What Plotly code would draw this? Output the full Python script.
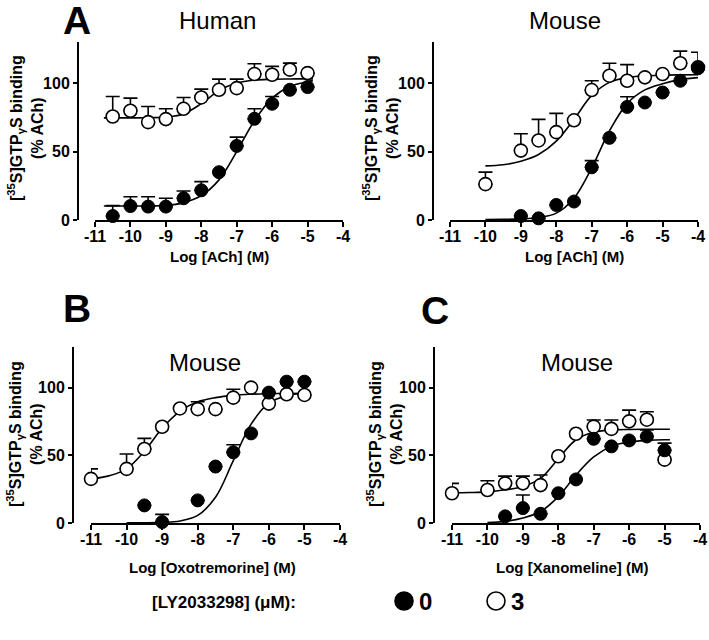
import plotly.graph_objects as go

W, H = 709, 640
FONT = "Liberation Sans, Arial, sans-serif"

# ---------------- data ----------------
x_tick_vals = [-11, -10, -9, -8, -7, -6, -5, -4]
x_tick_text = ["-11", "-10", "-9", "-8", "-7", "-6", "-5", "-4"]
y_tick_vals = [0, 50, 100]
y_tick_text = ["0", "50", "100"]

# Panel A, Human, ACh
hum_x = [-10.5, -10, -9.5, -9, -8.5, -8, -7.5, -7, -6.5, -6, -5.5, -5]
hum_0 = [2.9, 10.2, 9.8, 9.8, 15.9, 21.7, 34.9, 54.1, 73.9, 84.9, 95.1, 97.1]
hum_0_err = [7.6, 6.8, 7.2, 6.1, 5.3, 6.3, None, 6.4, 7.3, 5.3, None, None]
hum_3 = [75.6, 79.8, 71.5, 73.7, 81.2, 89.5, 95.1, 96.3, 106.6, 106.1, 109.8, 107.3]
hum_3_err = [14.6, 9.2, 11.4, 7.5, 8.3, 6.1, 7.8, 6.6, 7.5, 6.1, 4.8, None]
hum_fit_x = [-10.75, -10, -9.5, -9, -8.5, -8, -7.5, -7, -6.5, -6, -5.5, -5, -4.85]
hum_fit_0 = [10.2, 10.2, 10.3, 10.6, 12.7, 17.8, 29.3, 50.0, 72.5, 89.0, 97.5, 101.0, 101.8]
hum_fit_3 = [74.6, 74.6, 74.7, 75.2, 77.5, 85.0, 94.5, 100.0, 102.2, 102.8, 103.0, 103.1, 103.1]

# Panel A, Mouse, ACh
mus_3_x = [-10, -9, -8.5, -8, -7.5, -7, -6.5, -6, -5.5, -5, -4.5, -4]
mus_3 = [26.2, 50.7, 58.1, 64.2, 72.8, 94.9, 105.4, 101.7, 104.2, 106.6, 114.5, 111.5]
mus_3_err = [8.8, 12.3, 15.4, 13.7, None, 6.8, 9.1, 11.8, None, None, 8.8, 11.0]
mus_0_x = [-9, -8.5, -8, -7.5, -7, -6.5, -6, -5.5, -5, -4.5, -4]
mus_0 = [2.9, 1.2, 11.0, 13.5, 38.5, 60.0, 82.6, 85.8, 93.1, 101.7, 110.8]
mus_0_err = [None, None, None, None, 4.9, None, 7.4, None, None, None, None]
mus_fit_x = [-10, -9.5, -9, -8.5, -8, -7.5, -7, -6.5, -6, -5.5, -5, -4.5, -4]
mus_fit_0 = [0.3, 0.5, 0.8, 1.8, 5.0, 15.9, 38.0, 65.0, 85.0, 95.0, 99.5, 102.5, 104.0]
mus_fit_3 = [39.5, 40.3, 42.9, 47.8, 57.6, 73.5, 91.0, 100.5, 104.0, 105.3, 105.8, 106.0, 106.1]

# Panel B, Mouse, Oxotremorine
oxo_3_x = [-11, -10, -9.5, -9, -8.5, -8, -7.5, -7, -6.5, -6, -5.5, -5]
oxo_3 = [32.6, 40.0, 54.7, 71.1, 84.6, 84.1, 84.1, 92.6, 100.0, 88.2, 95.1, 94.6]
oxo_3_err = [7.4, 11.0, 7.8, None, None, 5.5, None, 6.2, None, None, None, None]
oxo_0_x = [-9.5, -9, -8, -7.5, -7, -6.5, -6, -5.5, -5]
oxo_0 = [13.0, 0.7, 16.7, 41.7, 52.2, 66.2, 96.3, 104.4, 104.4]
oxo_0_err = [None, 5.7, None, None, 5.6, None, None, None, None]
oxo_fit3_x = [-11, -10.5, -10, -9.5, -9, -8.5, -8, -7.5, -7, -6.5, -6, -5.5, -5]
oxo_fit_3 = [32.5, 34.8, 40.0, 53.0, 70.0, 82.5, 89.5, 92.6, 94.3, 95.1, 95.5, 95.7, 95.8]
oxo_fit0_x = [-10, -9.5, -9, -8.5, -8, -7.5, -7, -6.5, -6, -5.5, -5]
oxo_fit_0 = [0.1, 0.2, 0.5, 1.5, 5.6, 19.0, 46.0, 73.0, 88.5, 94.0, 95.8]

# Panel C, Mouse, Xanomeline
xan_3_x = [-11, -10, -9.5, -9, -8.5, -8, -7.5, -7, -6.5, -6, -5.5, -5]
xan_3 = [22.0, 24.4, 29.3, 29.3, 28.0, 49.3, 65.9, 71.2, 69.5, 75.1, 76.3, 46.8]
xan_3_err = [7.3, 6.8, 5.3, 5.3, 7.4, None, None, 4.9, 6.6, 8.3, 5.9, None]
xan_0_x = [-9.5, -9, -8.5, -8, -7.5, -7, -6.5, -6, -5.5, -5]
xan_0 = [4.9, 11.0, 6.8, 22.0, 32.2, 62.2, 56.6, 61.0, 63.9, 53.7]
xan_0_err = [None, 9.7, None, None, None, None, None, None, 4.9, 5.3]
xan_fit3_x = [-11, -10.5, -10, -9.5, -9, -8.5, -8, -7.5, -7, -6.5, -6, -5.5, -5, -4.85]
xan_fit_3 = [22.3, 22.5, 23.0, 24.5, 27.0, 33.0, 47.5, 61.5, 67.0, 68.6, 69.1, 69.2, 69.2, 69.2]
xan_fit0_x = [-10, -9.5, -9, -8.5, -8, -7.5, -7, -6.5, -6, -5.5, -5, -4.85]
xan_fit_0 = [0.3, 1.2, 3.7, 8.5, 19.5, 35.4, 48.8, 56.6, 59.8, 61.0, 61.5, 61.5]

panel_titles = ["Human", "Mouse", "Mouse", "Mouse"]
panel_letters = ["A", "B", "C"]
x_titles = ["Log [ACh] (M)", "Log [ACh] (M)", "Log [Oxotremorine] (M)", "Log [Xanomeline] (M)"]
y_title = "[<sup>35</sup>S]GTP<sub>γ</sub>S binding<br>(% ACh)"
legend_title = "[LY2033298] (μM):"
legend_labels = ["0", "3"]


def px(x):
    return x / W


def py(y):
    return 1 - y / H


fig = go.Figure()

# (x-axis left px, right px, y-axis px, top px, bottom px)
geom = [
    (95, 343, 78, 42, 220),
    (450, 698, 433, 42, 220),
    (91, 340, 73, 347, 523),
    (452, 700, 434, 347, 523),
]

panels = [
    (hum_x, hum_0, hum_0_err, hum_x, hum_3, hum_3_err, hum_fit_x, hum_fit_0, hum_fit_x, hum_fit_3),
    (mus_0_x, mus_0, mus_0_err, mus_3_x, mus_3, mus_3_err, mus_fit_x, mus_fit_0, mus_fit_x, mus_fit_3),
    (oxo_0_x, oxo_0, oxo_0_err, oxo_3_x, oxo_3, oxo_3_err, oxo_fit0_x, oxo_fit_0, oxo_fit3_x, oxo_fit_3),
    (xan_0_x, xan_0, xan_0_err, xan_3_x, xan_3, xan_3_err, xan_fit0_x, xan_fit_0, xan_fit3_x, xan_fit_3),
]

MS = 13
for i, (x0, y0, e0, x3, y3, e3, fx0, fy0, fx3, fy3) in enumerate(panels):
    xa = "x" if i == 0 else f"x{i+1}"
    ya = "y" if i == 0 else f"y{i+1}"
    line = dict(color="black", width=1.6)
    fig.add_trace(go.Scatter(x=fx0, y=fy0, mode="lines", line=dict(shape="spline", smoothing=1.0, **line),
                             xaxis=xa, yaxis=ya, showlegend=False, cliponaxis=False, hoverinfo="skip"))
    fig.add_trace(go.Scatter(x=fx3, y=fy3, mode="lines", line=dict(shape="spline", smoothing=1.0, **line),
                             xaxis=xa, yaxis=ya, showlegend=False, cliponaxis=False, hoverinfo="skip"))
    fig.add_trace(go.Scatter(
        x=x3, y=y3, mode="markers", xaxis=xa, yaxis=ya, showlegend=False, cliponaxis=False,
        marker=dict(symbol="circle", size=MS, color="white", line=dict(color="black", width=1.6)),
        error_y=dict(type="data", symmetric=False, array=e3, arrayminus=[0] * len(e3),
                     color="black", thickness=1.6, width=7)))
    fig.add_trace(go.Scatter(
        x=x0, y=y0, mode="markers", xaxis=xa, yaxis=ya, showlegend=False, cliponaxis=False,
        marker=dict(symbol="circle", size=MS, color="black", line=dict(color="black", width=1)),
        error_y=dict(type="data", symmetric=False, array=e0, arrayminus=[0] * len(e0),
                     color="black", thickness=1.6, width=7)))

layout = dict(
    width=W, height=H, margin=dict(l=0, r=0, t=0, b=0, pad=0, autoexpand=False),
    autosize=False,
    paper_bgcolor="white", plot_bgcolor="rgba(0,0,0,0)",
    font=dict(family=FONT, color="black"),
    showlegend=False,
)

for i, (xl, xr, yx, yt, yb) in enumerate(geom):
    xk = "xaxis" if i == 0 else f"xaxis{i+1}"
    yk = "yaxis" if i == 0 else f"yaxis{i+1}"
    ya = "y" if i == 0 else f"y{i+1}"
    layout[xk] = dict(
        domain=[px(xl), px(xr)], range=[-11, -4], anchor=ya, automargin=False,
        showline=True, linewidth=2, linecolor="black", showgrid=False, zeroline=False,
        ticks="outside", ticklen=5, tickwidth=2, tickcolor="black", ticklabelstandoff=-4,
        tickvals=x_tick_vals, ticktext=x_tick_text,
        tickfont=dict(family=FONT, size=16, weight="bold"),
    )
    layout[yk] = dict(
        domain=[py(yb), py(yt)], range=[0, 130], anchor="free", position=px(yx), automargin=False,
        showline=True, linewidth=2, linecolor="black", showgrid=False, zeroline=False,
        ticks="outside", ticklen=4, tickwidth=2, tickcolor="black",
        tickvals=y_tick_vals, ticktext=y_tick_text,
        tickfont=dict(family=FONT, size=16, weight="bold"),
    )

fig.update_layout(**layout)

ann = []
# panel titles
title_pos = [(217, 20), (565, 20), (205, 362), (577, 362)]
for t, (x, y) in zip(panel_titles, title_pos):
    ann.append(dict(text=t, x=px(x), y=py(y), xref="paper", yref="paper", showarrow=False,
                    xanchor="center", yanchor="middle", font=dict(family=FONT, size=24)))
# panel letters
letter_pos = [(77, 20), (77, 308), (435, 310)]
for t, (x, y) in zip(panel_letters, letter_pos):
    ann.append(dict(text=t, x=px(x), y=py(y), xref="paper", yref="paper", showarrow=False,
                    xanchor="center", yanchor="middle", font=dict(family=FONT, size=39, weight="bold")))
# x titles
xt_pos = [(219, 256), (574, 256), (213, 567), (572, 567)]
for t, (x, y) in zip(x_titles, xt_pos):
    ann.append(dict(text=t, x=px(x), y=py(y), xref="paper", yref="paper", showarrow=False,
                    xanchor="center", yanchor="middle", font=dict(family=FONT, size=15, weight="bold")))
# y titles
yt_pos = [(26, 128), (381, 128), (24, 434), (384, 434)]
for (x, y) in yt_pos:
    ann.append(dict(text=y_title, x=px(x), y=py(y), xref="paper", yref="paper", showarrow=False,
                    textangle=-90, xanchor="center", yanchor="middle",
                    font=dict(family=FONT, size=16, weight="bold")))
# legend
ann.append(dict(text=legend_title, x=px(150), y=py(602), xref="paper", yref="paper", showarrow=False,
                xanchor="left", yanchor="middle", font=dict(family=FONT, size=17, weight="bold")))
for t, x in zip(legend_labels, [426, 517]):
    ann.append(dict(text=t, x=px(x), y=py(601), xref="paper", yref="paper", showarrow=False,
                    xanchor="center", yanchor="middle", font=dict(family=FONT, size=24, weight="bold")))

shapes = []
for cx, fill in [(404, "black"), (496, "white")]:
    r = 9
    shapes.append(dict(type="circle", xref="paper", yref="paper",
                       x0=px(cx - r), x1=px(cx + r), y0=py(601 + r), y1=py(601 - r),
                       fillcolor=fill, line=dict(color="black", width=1.6)))

fig.update_layout(annotations=ann, shapes=shapes)
fig.write_html("out.html", config={"displayModeBar": False},
               post_script="document.body.style.margin='0';document.body.style.padding='0';")
